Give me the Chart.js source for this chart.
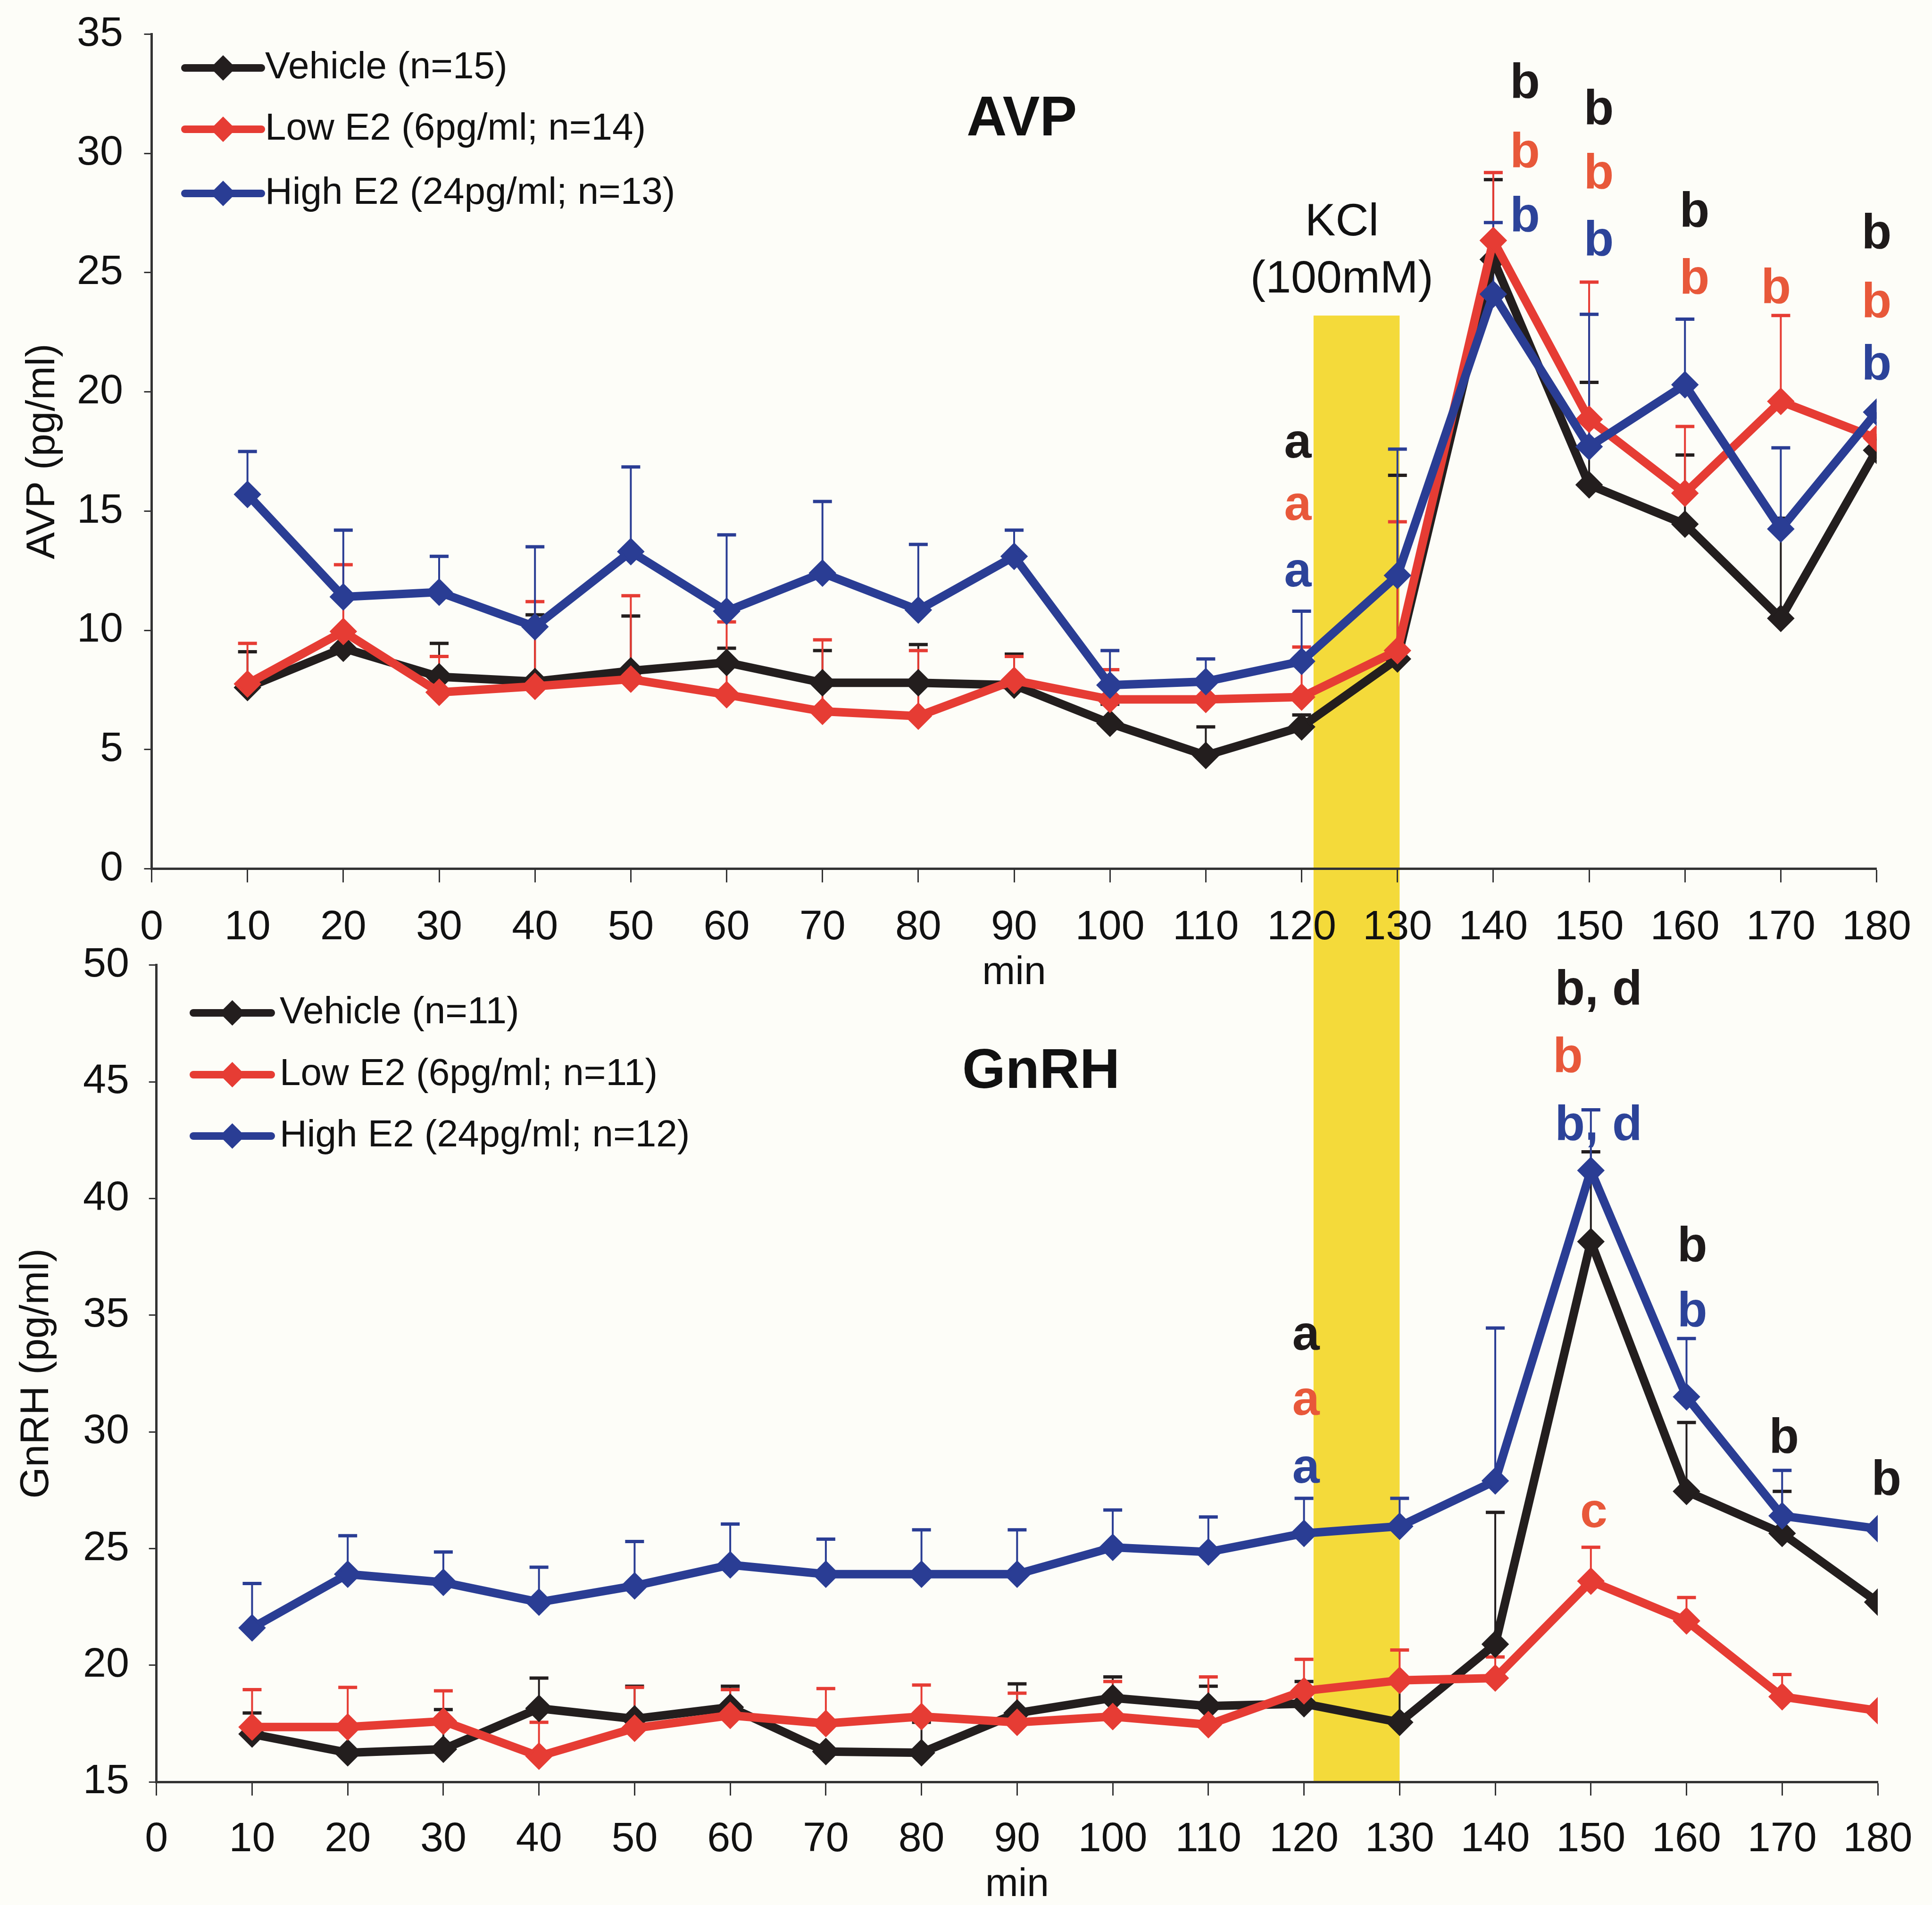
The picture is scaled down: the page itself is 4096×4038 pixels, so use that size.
<!DOCTYPE html>
<html>
<head>
<meta charset="utf-8">
<script src="https://cdn.jsdelivr.net/npm/chart.js@4.4.1/dist/chart.umd.min.js"></script>
<style>
  html, body { margin: 0; padding: 0; background: #fdfdf8; overflow: hidden; }
  #wrap { position: relative; width: 4096px; height: 4038px; }
  #wrap canvas { position: absolute; left: 0; top: 0; }
  #wrap #gnrh { z-index: 1; }
  #wrap #avp { z-index: 2; top: -40px; }
</style>
</head>
<body>
<div id="wrap">
  <canvas id="gnrh" width="4096" height="4038"></canvas>
  <canvas id="avp" width="4096" height="2200"></canvas>
</div>
<script>
// sampling times (min)
const minutes = [10, 20, 30, 40, 50, 60, 70, 80, 90, 100, 110, 120, 130, 140, 150, 160, 170, 180];
const xTickValues = [0, 10, 20, 30, 40, 50, 60, 70, 80, 90, 100, 110, 120, 130, 140, 150, 160, 170, 180];
const avpTickValues = [0, 5, 10, 15, 20, 25, 30, 35];
const gnrhTickValues = [15, 20, 25, 30, 35, 40, 45, 50];

const avpLegend = ['Vehicle (n=15)', 'Low E2 (6pg/ml; n=14)', 'High E2 (24pg/ml; n=13)'];
const gnrhLegend = ['Vehicle (n=11)', 'Low E2 (6pg/ml; n=11)', 'High E2 (24pg/ml; n=12)'];

// AVP (pg/ml), mean and SEM
const avpVehicle = [7.6, 9.25, 8.05, 7.85, 8.3, 8.65, 7.8, 7.8, 7.7, 6.1, 4.75, 5.95, 8.8, 25.55, 16.1, 14.45, 10.5, 17.55];
const avpLow = [7.75, 9.95, 7.4, 7.65, 7.95, 7.3, 6.6, 6.4, 7.9, 7.1, 7.1, 7.2, 9.15, 26.35, 18.85, 15.75, 19.6, 18.05];
const avpHigh = [15.7, 11.4, 11.6, 10.15, 13.3, 10.8, 12.4, 10.85, 13.1, 7.7, 7.85, 8.7, 12.3, 24.1, 17.7, 20.3, 14.25, 19.15];
const avpVehicleSem = [1.5, 0.6, 1.4, 2.8, 2.3, 0.6, 1.35, 1.6, 1.3, 0.8, 1.2, 0.5, 7.7, 3.35, 4.3, 2.9, 4.2, 0];
const avpLowSem = [1.7, 2.8, 1.5, 3.55, 3.5, 3.05, 3.0, 2.75, 1.0, 1.25, 0.7, 2.1, 5.4, 2.85, 5.75, 2.8, 3.6, 0];
const avpHighSem = [1.8, 2.8, 1.5, 3.35, 3.55, 3.2, 3.0, 2.75, 1.1, 1.45, 0.95, 2.1, 5.3, 3.0, 5.55, 2.75, 3.4, 0];

// GnRH (pg/ml), mean and SEM
const gnrhVehicle = [17.05, 16.25, 16.4, 18.15, 17.7, 18.2, 16.3, 16.25, 17.95, 18.6, 18.25, 18.35, 17.55, 20.9, 38.15, 27.45, 25.65, 22.7];
const gnrhLow = [17.35, 17.35, 17.6, 16.1, 17.3, 17.85, 17.5, 17.8, 17.55, 17.8, 17.45, 18.9, 19.35, 19.45, 23.6, 21.9, 18.65, 18.05];
const gnrhHigh = [21.6, 23.9, 23.55, 22.7, 23.4, 24.3, 23.9, 23.9, 23.9, 25.05, 24.85, 25.65, 25.95, 27.9, 41.2, 31.5, 26.4, 25.85];
const gnrhVehicleSem = [0.9, 0, 1.7, 1.3, 1.4, 0.9, 0, 1.3, 1.25, 0.9, 0.85, 0.95, 1.9, 5.65, 3.85, 2.95, 1.8, 0];
const gnrhLowSem = [1.6, 1.7, 1.3, 1.45, 1.75, 1.1, 1.5, 1.35, 1.25, 1.5, 2.05, 1.35, 1.3, 0.9, 1.45, 1.0, 0.95, 0];
const gnrhHighSem = [1.9, 1.65, 1.3, 1.5, 1.9, 1.75, 1.5, 1.9, 1.9, 1.6, 1.5, 1.5, 1.2, 6.55, 2.6, 2.5, 1.95, 0];

// KCl pulse (min) and top of the band (AVP units)
const kclStart = 121, kclEnd = 130, kclTop = 23.2;

// significance letters: [text, series, min, value]
const avpLetters = [
  ['a', 0, 119.6, 17.8], ['a', 1, 119.6, 15.2], ['a', 2, 119.6, 12.4],
  ['b', 0, 143.3, 32.9], ['b', 1, 143.3, 30.0], ['b', 2, 143.3, 27.3],
  ['b', 0, 151, 31.8], ['b', 1, 151, 29.1], ['b', 2, 151, 26.3],
  ['b', 0, 161, 27.5], ['b', 1, 161, 24.7],
  ['b', 1, 169.5, 24.3],
  ['b', 0, 180, 26.6], ['b', 1, 180, 23.7], ['b', 2, 180, 21.1]
];
const gnrhLetters = [
  ['a', 0, 120.2, 34.1], ['a', 1, 120.2, 31.3], ['a', 2, 120.2, 28.4],
  ['b, d', 0, 150.8, 48.9], ['b', 1, 147.6, 46.0], ['b, d', 2, 150.8, 43.1],
  ['b', 0, 160.6, 37.9], ['b', 2, 160.6, 35.1],
  ['b', 0, 170.2, 29.7],
  ['b', 0, 180.9, 27.9],
  ['c', 1, 150.3, 26.5]
];

const lineColors = ['#231e1e', '#e63c34', '#2a3d94'];
const letterColors = ['#1e1a1a', '#e8583a', '#2c4399'];
const drawOrder = [2, 1, 0];
const ff = "'Liberation Sans', Arial, Helvetica, sans-serif";
const ffNarrow = "'Liberation Sans Narrow', 'Arial Narrow', 'Liberation Sans', Arial, sans-serif";
const avpShift = 40; // the AVP canvas sits 40px higher so its tick padding fits

function buildDatasets(series, sems, names) {
  return series.map((vals, i) => ({
    label: names[i],
    data: minutes.map((m, j) => ({ x: m, y: vals[j] })),
    sem: sems[i],
    borderColor: lineColors[i],
    backgroundColor: lineColors[i],
    borderWidth: 18,
    borderJoinStyle: 'round',
    pointStyle: 'rectRot',
    pointRadius: 25,
    pointBorderWidth: 6,
    pointBackgroundColor: lineColors[i],
    pointBorderColor: lineColors[i],
    tension: 0,
    order: drawOrder[i]
  }));
}

function diamond(ctx, x, y, r) {
  ctx.beginPath();
  ctx.moveTo(x - r, y);
  ctx.lineTo(x, y - r);
  ctx.lineTo(x + r, y);
  ctx.lineTo(x, y + r);
  ctx.closePath();
  ctx.fill();
}

// error bars, letters, legend, panel title
function overlay(cfg) {
  return {
    id: 'overlay',
    beforeDatasetsDraw(chart) {
      const ctx = chart.ctx, xs = chart.scales.x, ys = chart.scales.y;
      ctx.save();
      chart.data.datasets.forEach((ds, i) => {
        ctx.strokeStyle = lineColors[i];
        ds.data.forEach((p, j) => {
          const e = ds.sem[j];
          if (!e) return;
          const px = xs.getPixelForValue(p.x);
          const y0 = ys.getPixelForValue(p.y);
          const y1 = ys.getPixelForValue(p.y + e);
          ctx.lineWidth = 4;
          ctx.beginPath(); ctx.moveTo(px, y0); ctx.lineTo(px, y1); ctx.stroke();
          ctx.lineWidth = 7;
          ctx.beginPath(); ctx.moveTo(px - 20, y1); ctx.lineTo(px + 20, y1); ctx.stroke();
        });
      });
      ctx.restore();
    },
    afterDatasetsDraw(chart) {
      const ctx = chart.ctx, xs = chart.scales.x, ys = chart.scales.y;
      ctx.save();
      ctx.textBaseline = 'middle';
      ctx.textAlign = 'center';
      ctx.font = 'bold 104px ' + ff;
      cfg.letters.forEach(([t, s, x, y]) => {
        ctx.fillStyle = letterColors[s];
        ctx.fillText(t, xs.getPixelForValue(x), ys.getPixelForValue(y));
      });
      ctx.fillStyle = '#111';
      ctx.font = 'bold 118px ' + ff;
      ctx.fillText(cfg.title, xs.getPixelForValue(cfg.titleAt[0]), ys.getPixelForValue(cfg.titleAt[1]));
      (cfg.notes || []).forEach(([t, x, y]) => {
        ctx.font = '97px ' + ff;
        ctx.fillText(t, xs.getPixelForValue(x), ys.getPixelForValue(y));
      });
      // legend
      const L = cfg.legend;
      ctx.textAlign = 'left';
      ctx.font = '80px ' + ff;
      L.rows.forEach((ry, i) => {
        ctx.strokeStyle = lineColors[i];
        ctx.fillStyle = lineColors[i];
        ctx.lineWidth = 16;
        ctx.lineCap = 'round';
        ctx.beginPath(); ctx.moveTo(L.x1, ry); ctx.lineTo(L.x2, ry); ctx.stroke();
        diamond(ctx, (L.x1 + L.x2) / 2, ry, 27);
        ctx.fillStyle = '#111';
        ctx.fillText(L.labels[i], L.tx, ry);
      });
      ctx.restore();
    }
  };
}

function axes(opt) {
  return {
    x: {
      type: 'linear', min: 0, max: 180,
      afterBuildTicks: s => { s.ticks = xTickValues.map(v => ({ value: v })); },
      afterFit: s => { s.height = opt.hx; },
      border: { display: true, color: '#333', width: 5 },
      grid: { drawOnChartArea: false, drawTicks: true, tickLength: 29, tickWidth: 3, tickColor: '#333' },
      ticks: { autoSkip: false, maxRotation: 0, minRotation: 0, padding: opt.xpad, color: '#111',
               font: { family: ffNarrow, size: 88 } },
      title: { display: true, text: 'min', color: '#111', padding: 0,
               font: { family: ff, size: 84, lineHeight: 1 } }
    },
    y: {
      min: opt.ticks[0], max: opt.ticks[opt.ticks.length - 1],
      afterBuildTicks: s => { s.ticks = opt.ticks.map(v => ({ value: v })); },
      afterFit: s => { s.width = opt.wy; },
      border: { display: true, color: '#333', width: 5 },
      grid: { drawOnChartArea: false, drawTicks: true, tickLength: 16, tickWidth: 3, tickColor: '#333' },
      ticks: { padding: opt.ypad, color: '#111', font: { family: ff, size: 88 } },
      title: { display: true, text: opt.ytitle, color: '#111', padding: 0,
               font: { family: ff, size: 86, lineHeight: 1 } }
    }
  };
}

const avpChart = new Chart(document.getElementById('avp'), {
  type: 'line',
  data: { datasets: buildDatasets([avpVehicle, avpLow, avpHigh], [avpVehicleSem, avpLowSem, avpHighSem], avpLegend) },
  options: {
    responsive: false, animation: false,
    layout: { padding: { left: 48, right: 112, top: 72.5 + avpShift, bottom: 2200 - 1841.4 - avpShift - 263.6 } },
    plugins: { legend: { display: false }, tooltip: { enabled: false } },
    scales: axes({ hx: 263.6, xpad: 44, wy: 273.5, ypad: 44.5, ticks: avpTickValues, ytitle: 'AVP (pg/ml)' })
  },
  plugins: [overlay({
    letters: avpLetters, title: 'AVP', titleAt: [90.8, 31.4],
    notes: [['KCl', 124.2, 27.1], ['(100mM)', 124.2, 24.7]],
    legend: { rows: [144 + avpShift, 274 + avpShift, 410 + avpShift], x1: 392, x2: 554, tx: 562, labels: avpLegend }
  })]
});

const gnrhChart = new Chart(document.getElementById('gnrh'), {
  type: 'line',
  data: { datasets: buildDatasets([gnrhVehicle, gnrhLow, gnrhHigh], [gnrhVehicleSem, gnrhLowSem, gnrhHighSem], gnrhLegend) },
  options: {
    responsive: false, animation: false,
    layout: { padding: { left: 35, right: 115, top: 2045.7, bottom: 0 } },
    plugins: { legend: { display: false }, tooltip: { enabled: false } },
    scales: axes({ hx: 261, xpad: 41, wy: 296.7, ypad: 41.7, ticks: gnrhTickValues, ytitle: 'GnRH (pg/ml)' })
  },
  plugins: [{
    id: 'kclBand',
    beforeDraw(chart) {
      const ctx = chart.ctx, xs = chart.scales.x;
      const x0 = xs.getPixelForValue(kclStart), x1 = xs.getPixelForValue(kclEnd);
      const top = avpChart.scales.y.getPixelForValue(kclTop) - avpShift;
      ctx.save();
      ctx.fillStyle = '#f4da3a';
      ctx.fillRect(x0, top, x1 - x0, chart.chartArea.bottom - top);
      ctx.restore();
    }
  }, overlay({
    letters: gnrhLetters, title: 'GnRH', titleAt: [92.5, 45.4],
    legend: { rows: [2147, 2278, 2408], x1: 410, x2: 575, tx: 593, labels: gnrhLegend }
  })]
});
</script>
</body>
</html>
